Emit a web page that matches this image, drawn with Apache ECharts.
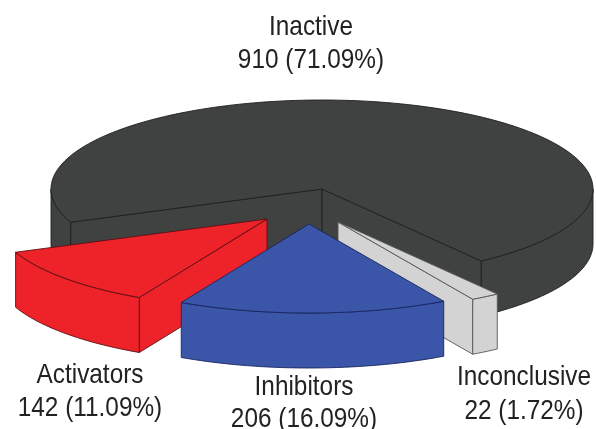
<!DOCTYPE html>
<html>
<head>
<meta charset="utf-8">
<style>html,body{margin:0;padding:0;background:#fff}#chart{width:596px;height:429px}</style>
<script src="https://cdn.jsdelivr.net/npm/echarts@6/dist/echarts.min.js"></script>
</head>
<body>
<div id="chart"></div>
<script>
// Compound counts per activity class
const sliceNames = ['Inconclusive', 'Inhibitors', 'Activators', 'Inactive'];
const sliceValues = [22, 206, 142, 910];
const sliceColors = ['#d2d3d2', '#3b55a9', '#ee2229', '#3f4241'];
const sliceEdges = ['#55585a', '#16265f', '#5c0f12', '#1d1f1f'];
// Exploded offset of each wedge from the pie centre, in pixels
const sliceOffsetX = [16, -13, -55, 0];
const sliceOffsetY = [33, 35, 30, 0];
// Label anchor of each wedge: centre x, first line bottom, second line bottom
const labelX = [524, 304, 90, 311];
const labelY1 = [391, 401, 389, 41];
const labelY2 = [425, 433, 422, 74];
// Painted back to front
const drawOrder = [3, 2, 0, 1];

const CX = 322, CY = 189, RX = 271, RY = 89, DEPTH = 55, START_DEG = 54;
const total = sliceValues.reduce((a, b) => a + b, 0);

// Clockwise sweep of every wedge, in degrees (screen y points down)
const spans = [];
sliceValues.reduce((from, v) => {
  const to = from + v / total * 360;
  spans.push([from, to]);
  return to;
}, START_DEG);

function rim(deg, ox, oy, drop) {
  const t = deg * Math.PI / 180;
  return [CX + ox + RX * Math.cos(t), CY + oy + drop + RY * Math.sin(t)];
}
function arcPoints(a, b, ox, oy, drop) {
  const pts = [];
  const n = Math.max(2, Math.ceil(Math.abs(b - a) / 1.5));
  for (let i = 0; i <= n; i++) pts.push(rim(a + (b - a) * i / n, ox, oy, drop));
  return pts;
}

function wedgeFaces(i) {
  const [a, b] = spans[i];
  const ox = sliceOffsetX[i], oy = sliceOffsetY[i];
  const apex = [CX + ox, CY + oy];
  const apexLow = [apex[0], apex[1] + DEPTH];
  const faces = [];
  const sin = d => Math.sin(d * Math.PI / 180);

  // Radial cut faces, only when they turn towards the viewer
  [[a, a - 90], [b, b + 90]].forEach(([edge, normal]) => {
    if (sin(normal) > 0) {
      faces.push([apex, rim(edge, ox, oy, 0), rim(edge, ox, oy, DEPTH), apexLow]);
    }
  });
  // Outer wall: the parts of the rim on the near half of the ellipse
  [[0, 180], [360, 540]].forEach(([lo, hi]) => {
    const s = Math.max(a, lo), e = Math.min(b, hi);
    if (e > s) {
      faces.push(arcPoints(s, e, ox, oy, 0).concat(arcPoints(e, s, ox, oy, DEPTH)));
    }
  });
  // Top surface
  faces.push([apex].concat(arcPoints(a, b, ox, oy, 0)));
  return faces;
}

function textLine(text, x, bottom, z2) {
  return {
    type: 'text',
    z2,
    x,
    y: bottom,
    scaleX: 0.87,
    style: {
      text,
      font: '28px "Liberation Sans", Arial, sans-serif',
      fill: '#222222',
      align: 'center',
      verticalAlign: 'bottom'
    }
  };
}

const chart = echarts.init(document.getElementById('chart'), null, { renderer: 'canvas' });
chart.setOption({
  animation: false,
  series: [{
    type: 'custom',
    coordinateSystem: 'none',
    silent: true,
    data: drawOrder.map(i => [sliceValues[i], i]),
    renderItem(params, api) {
      const value = api.value(0);
      const i = api.value(1);
      const base = params.dataIndex * 100;
      const children = wedgeFaces(i).map((points, k) => ({
        type: 'polygon',
        z2: base + k,
        shape: { points },
        style: { fill: sliceColors[i], stroke: sliceEdges[i], lineWidth: 0.9, lineJoin: 'round' }
      }));
      const pct = (value / total * 100).toFixed(2);
      children.push(textLine(sliceNames[i], labelX[i], labelY1[i], 1000));
      children.push(textLine(`${value} (${pct}%)`, labelX[i], labelY2[i], 1000));
      return { type: 'group', children };
    }
  }]
});
</script>
</body>
</html>
